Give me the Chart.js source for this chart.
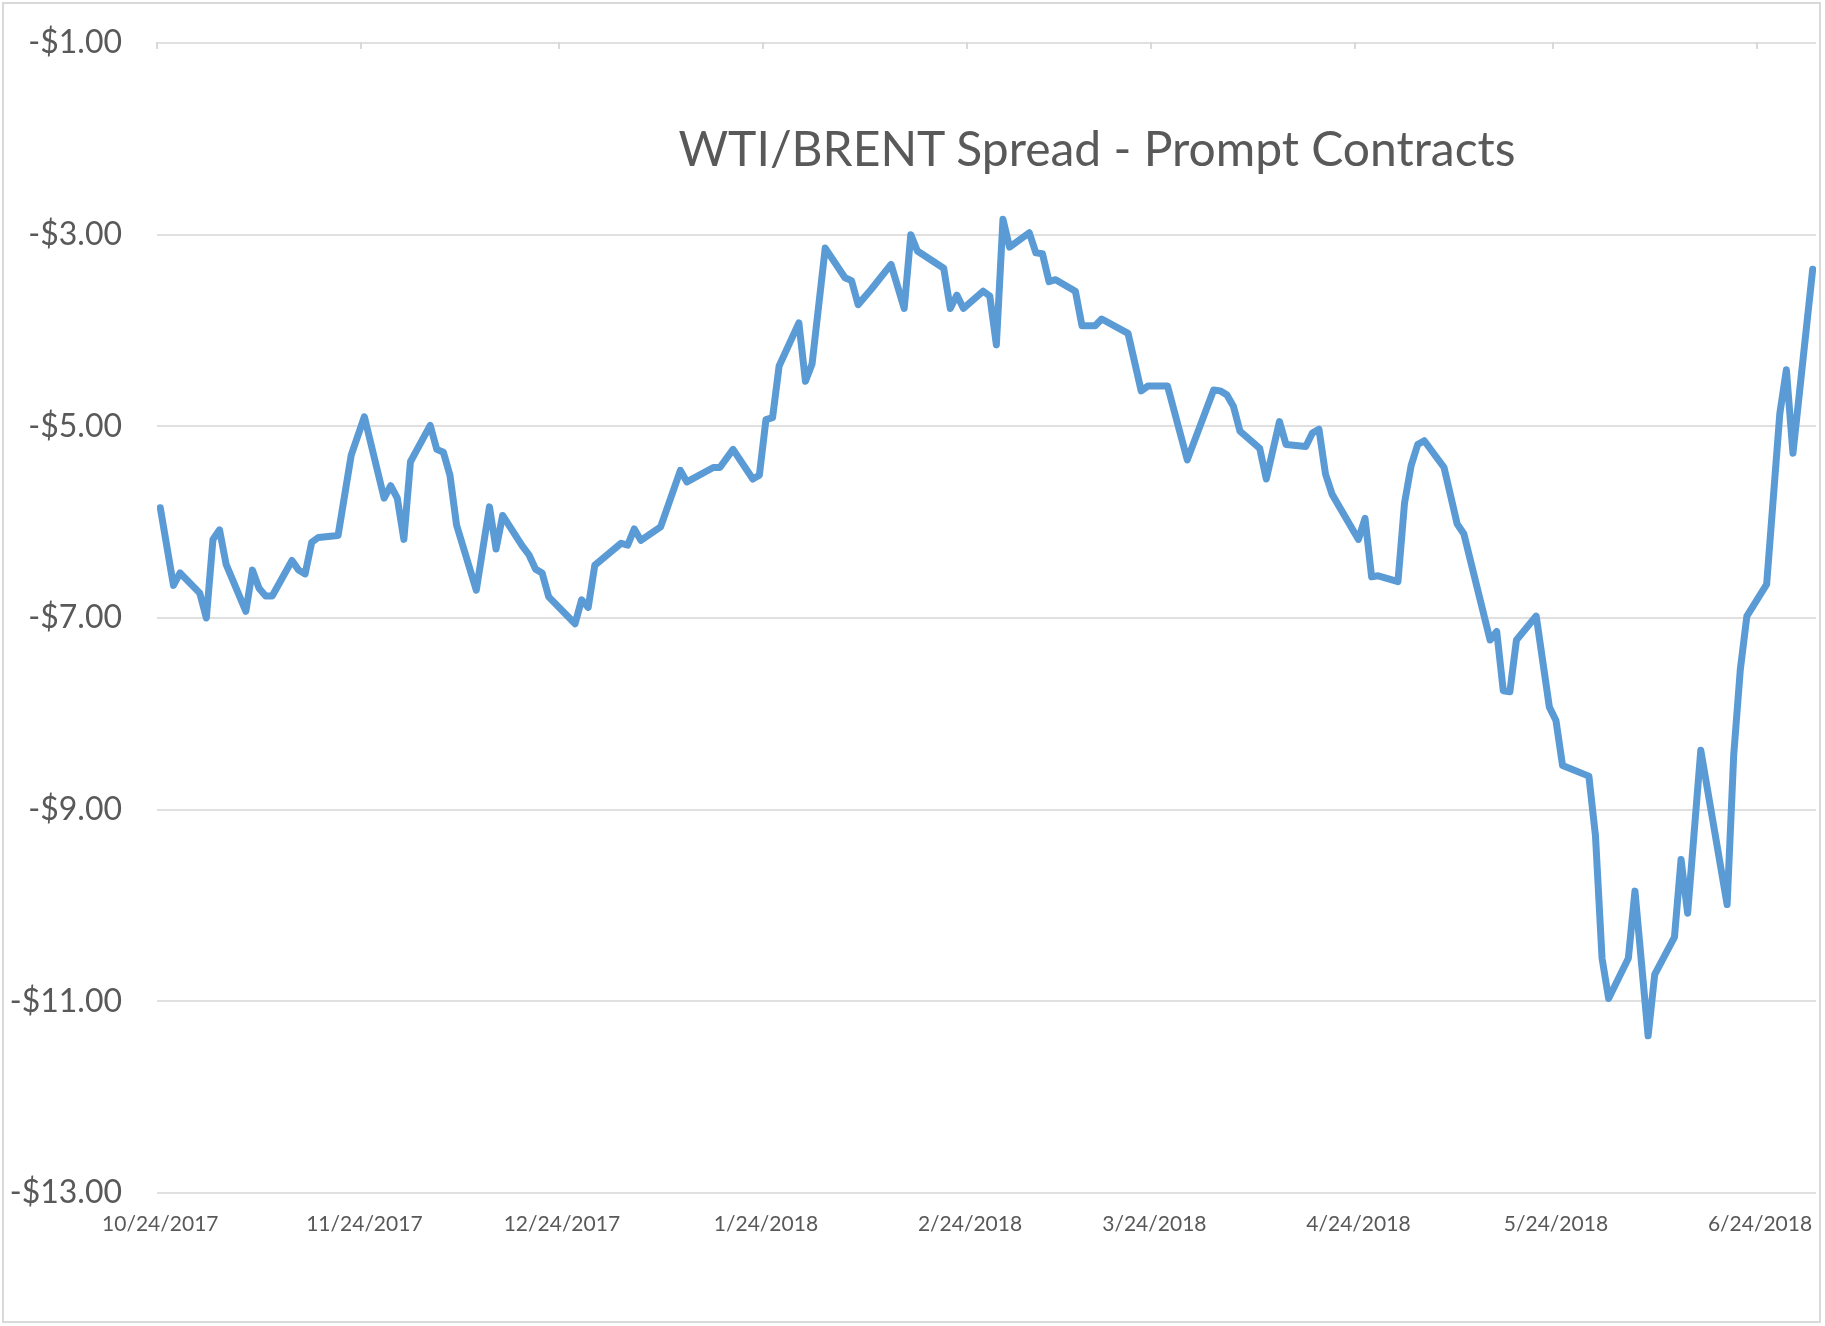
<!DOCTYPE html>
<html>
<head>
<meta charset="utf-8">
<script src="https://cdn.jsdelivr.net/npm/chart.js@4.4.1/dist/chart.umd.min.js"></script>
<style>
    body { margin: 0; background: #fff; }
    #wrap { position: relative; width: 1825px; height: 1326px; }
    #frame { position: absolute; left: 2px; top: 2px; width: 1815px; height: 1317px; border: 2px solid #d9d9d9; }
    #title {
        position: absolute; left: 1097px; top: 124px; transform: translateX(-50%);
        font-family: Lato, sans-serif; font-size: 48px; line-height: 48px;
        color: #595959; white-space: nowrap;
    }
    canvas { position: absolute; left: 0; top: 0; }
</style>
</head>
<body>
<div id="wrap">
    <div id="frame"></div>
    <canvas id="spreadChart" width="1825" height="1326"></canvas>
    <div id="title">WTI/BRENT Spread - Prompt Contracts</div>
</div>
<script>
// trading days (prompt WTI minus prompt Brent, $/bbl)
const tradeDates = [
    '10/24/2017', '10/26/2017', '10/27/2017', '10/30/2017', '10/31/2017',
    '11/1/2017', '11/2/2017', '11/3/2017', '11/6/2017', '11/7/2017', '11/8/2017', '11/9/2017', '11/10/2017',
    '11/13/2017', '11/14/2017', '11/15/2017', '11/16/2017', '11/17/2017', '11/20/2017', '11/22/2017', '11/24/2017',
    '11/27/2017', '11/28/2017', '11/29/2017', '11/30/2017', '12/1/2017',
    '12/4/2017', '12/5/2017', '12/6/2017', '12/7/2017', '12/8/2017', '12/11/2017', '12/13/2017', '12/14/2017', '12/15/2017',
    '12/18/2017', '12/19/2017', '12/20/2017', '12/21/2017', '12/22/2017', '12/26/2017', '12/27/2017', '12/28/2017', '12/29/2017',
    '1/2/2018', '1/3/2018', '1/4/2018', '1/5/2018', '1/8/2018', '1/11/2018', '1/12/2018', '1/16/2018', '1/17/2018', '1/19/2018',
    '1/22/2018', '1/23/2018', '1/24/2018', '1/25/2018', '1/26/2018', '1/29/2018', '1/30/2018', '1/31/2018', '2/2/2018',
    '2/5/2018', '2/6/2018', '2/7/2018', '2/9/2018', '2/12/2018', '2/14/2018', '2/15/2018', '2/16/2018',
    '2/20/2018', '2/21/2018', '2/22/2018', '2/23/2018', '2/26/2018', '2/27/2018', '2/28/2018', '3/1/2018', '3/2/2018',
    '3/5/2018', '3/6/2018', '3/7/2018', '3/8/2018', '3/9/2018', '3/12/2018', '3/13/2018', '3/15/2018', '3/16/2018',
    '3/20/2018', '3/22/2018', '3/23/2018', '3/26/2018', '3/29/2018',
    '4/2/2018', '4/3/2018', '4/4/2018', '4/5/2018', '4/6/2018', '4/9/2018', '4/10/2018', '4/12/2018', '4/13/2018',
    '4/16/2018', '4/17/2018', '4/18/2018', '4/19/2018', '4/20/2018', '4/24/2018', '4/25/2018', '4/26/2018', '4/27/2018',
    '4/30/2018', '5/1/2018', '5/2/2018', '5/3/2018', '5/4/2018', '5/7/2018', '5/9/2018', '5/10/2018',
    '5/14/2018', '5/15/2018', '5/16/2018', '5/17/2018', '5/18/2018', '5/21/2018', '5/23/2018', '5/24/2018', '5/25/2018',
    '5/29/2018', '5/30/2018', '5/31/2018', '6/1/2018', '6/4/2018', '6/5/2018', '6/7/2018', '6/8/2018',
    '6/11/2018', '6/12/2018', '6/13/2018', '6/15/2018', '6/19/2018', '6/20/2018', '6/21/2018', '6/22/2018',
    '6/25/2018', '6/27/2018', '6/28/2018', '6/29/2018', '7/2/2018'
];

const spread = [
    -5.85, -6.66, -6.53, -6.74, -7.00,
    -6.18, -6.08, -6.44, -6.93, -6.50, -6.69, -6.77, -6.77,
    -6.40, -6.50, -6.54, -6.21, -6.16, -6.14, -5.30, -4.90,
    -5.75, -5.62, -5.75, -6.18, -5.37,
    -4.99, -5.24, -5.27, -5.51, -6.03, -6.71, -5.84, -6.28, -5.93,
    -6.25, -6.34, -6.49, -6.53, -6.78, -7.06, -6.81, -6.89, -6.45,
    -6.22, -6.24, -6.07, -6.19, -6.05, -5.46, -5.58, -5.43, -5.43, -5.24,
    -5.55, -5.51, -4.93, -4.91, -4.37, -3.92, -4.53, -4.35, -3.14,
    -3.45, -3.48, -3.73, -3.57, -3.31, -3.77, -3.00, -3.17,
    -3.35, -3.77, -3.63, -3.77, -3.59, -3.64, -4.15, -2.84, -3.13,
    -2.98, -3.19, -3.20, -3.49, -3.47, -3.59, -3.95, -3.95, -3.88,
    -4.03, -4.63, -4.58, -4.58, -5.35,
    -4.62, -4.63, -4.67, -4.79, -5.05, -5.23, -5.55, -4.95, -5.19,
    -5.21, -5.07, -5.03, -5.50, -5.71, -6.18, -5.96, -6.57, -6.56,
    -6.62, -5.80, -5.41, -5.19, -5.15, -5.43, -6.02, -6.12,
    -7.23, -7.14, -7.76, -7.77, -7.23, -6.98, -7.93, -8.07, -8.54,
    -8.65, -9.27, -10.55, -10.97, -10.55, -9.85, -11.36, -10.72,
    -10.33, -9.52, -10.08, -8.38, -9.99, -8.43, -7.54, -6.98,
    -6.65, -4.87, -4.41, -5.28, -3.36
];

const monthLabels = ['10/24/2017', '11/24/2017', '12/24/2017', '1/24/2018', '2/24/2018',
    '3/24/2018', '4/24/2018', '5/24/2018', '6/24/2018'];
const yTicks = [-1, -3, -5, -7, -9, -11, -13];

function toUtc(str) {
    let parts = str.split('/');
    return Date.UTC(parseInt(parts[2]), parseInt(parts[0]) - 1, parseInt(parts[1]));
}

const startTime = toUtc(tradeDates[0]);
function dayNumber(str) {
    return Math.round((toUtc(str) - startTime) / 86400000);
}

const monthTicks = monthLabels.map(dayNumber);
const lastDay = dayNumber(tradeDates[tradeDates.length - 1]);

// small tick marks hanging from the top axis line, at the day boundaries like Excel
const topTickMarks = {
    id: 'topTickMarks',
    beforeDatasetsDraw(chart) {
        const ctx = chart.ctx;
        const x = chart.scales.x;
        const top = chart.chartArea.top;
        ctx.save();
        ctx.strokeStyle = '#d9d9d9';
        ctx.lineWidth = 2;
        monthTicks.forEach((t) => {
            let px = Math.round(x.getPixelForValue(t - 0.5));
            ctx.beginPath();
            ctx.moveTo(px, top - 1);
            ctx.lineTo(px, top + 6);
            ctx.stroke();
        });
        ctx.restore();
    }
};

function drawChart() {
    const ctx = document.getElementById('spreadChart').getContext('2d');
    const points = tradeDates.map((d, i) => ({ x: dayNumber(d), y: spread[i] }));
    new Chart(ctx, {
        type: 'line',
        data: {
            datasets: [{
                label: 'WTI/BRENT Spread',
                data: points,
                borderColor: '#5b9bd5',
                borderWidth: 7,
                borderJoinStyle: 'round',
                borderCapStyle: 'round',
                pointRadius: 0,
                tension: 0,
                fill: false,
            }]
        },
        options: {
            responsive: false,
            animation: false,
            devicePixelRatio: 1,
            layout: { padding: { top: 43, right: 9, bottom: 53, left: 0 } },
            plugins: {
                legend: { display: false },
                tooltip: { enabled: false },
                title: { display: false },
            },
            scales: {
                x: {
                    type: 'linear',
                    min: -0.5,
                    max: lastDay + 0.5,
                    afterBuildTicks: (scale) => {
                        scale.ticks = monthTicks.map((v) => ({ value: v }));
                    },
                    afterFit: (scale) => { scale.height = 80; },
                    grid: { display: false },
                    border: { display: false },
                    ticks: {
                        autoSkip: false,
                        maxRotation: 0,
                        padding: 11,
                        color: '#595959',
                        font: { family: 'Lato', size: 21 },
                        callback: (value) => {
                            let idx = monthTicks.indexOf(value);
                            return idx >= 0 ? monthLabels[idx] : '';
                        }
                    }
                },
                y: {
                    min: -13,
                    max: -1,
                    afterBuildTicks: (scale) => {
                        scale.ticks = yTicks.map((v) => ({ value: v }));
                    },
                    afterFit: (scale) => {
                        scale.width = 157;
                        scale.paddingTop = 0;
                        scale.paddingBottom = 0;
                    },
                    grid: { color: '#e0e0e0', lineWidth: 2, drawTicks: false },
                    border: { display: false },
                    ticks: {
                        padding: 35,
                        color: '#595959',
                        font: { family: 'Lato', size: 32 },
                        callback: (value) => '-$' + Math.abs(value).toFixed(2)
                    }
                }
            }
        },
        plugins: [topTickMarks]
    });
}

drawChart();
</script>
</body>
</html>
